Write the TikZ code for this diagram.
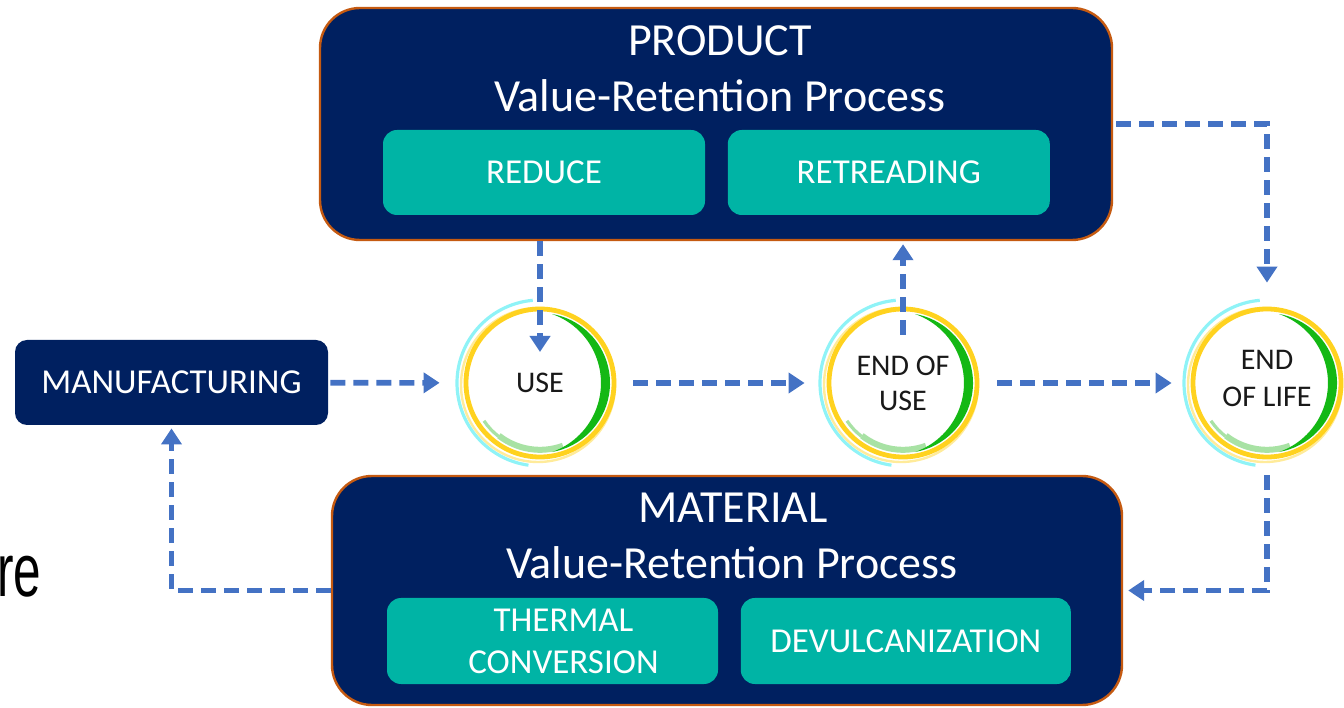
\documentclass[tikz,border=0pt]{standalone}
\usepackage{fontspec}
\setmainfont{Carlito}
\newfontfamily\slidefont{Liberation Sans}
\usetikzlibrary{positioning, calc, arrows.meta}

\definecolor{navy}{HTML}{002060}
\definecolor{vrpteal}{HTML}{00B4A5}
\definecolor{rim}{HTML}{C55A11}
\definecolor{flowblue}{HTML}{4472C4}
\definecolor{ringyellow}{HTML}{FFD21F}
\definecolor{ringcyan}{HTML}{8FF3F7}
\definecolor{ringgreen}{HTML}{14B814}
\definecolor{ringlight}{HTML}{A8E2A4}

\tikzset{
  vrp/.style={draw=rim, line width=1.2pt, fill=navy, rounded corners=20pt,
    minimum width=396pt, minimum height=116pt},
  option/.style={fill=vrpteal, rounded corners=7pt, text=white, align=center,
    font=\fontsize{17.5}{21}\selectfont, inner sep=0pt,
    minimum width=161pt, minimum height=42.5pt},
  title/.style={text=white, font=\fontsize{23}{27}\selectfont, inner sep=0pt},
  stage/.style={circle, fill=white, minimum size=72pt, inner sep=0pt, align=center,
    font=\fontsize{15}{17.5}\selectfont, text=black!90},
  flow/.style={draw=flowblue, line width=2.8pt, dash pattern=on 7.5pt off 4pt,
    -{Triangle[length=8pt,width=10pt]}},
}

\begin{document}
\begin{tikzpicture}[x=0.5pt, y=0.5pt]
  \useasboundingbox (0,0) rectangle (1344,707);

  % the two value-retention boxes
  \node[vrp] (product) at (716,583) {};
  \node[title] (prodname) at (720,666) {PRODUCT};
  \node[title] (prodsub) at (720,611) {Value-Retention Process};
  \node[option] (reduce) at (544,534.5) {REDUCE};
  \node[option, right=11pt of reduce] (retread) {RETREADING};

  \node[vrp, minimum width=395pt, minimum height=114.5pt] (material) at (727,116.5) {};
  \node[title] (matname) at (733,199) {MATERIAL};
  \node[title] (matsub) at (732,144) {Value-Retention Process};
  \node[option, minimum width=165.5pt, minimum height=43pt] (thermal) at (552.5,66) {\hspace*{11pt}THERMAL\\\hspace*{11pt}CONVERSION};
  \node[option, minimum width=165pt, minimum height=43pt, right=11pt of thermal] (devulc) {DEVULCANIZATION};

  \node[fill=navy, rounded corners=6pt, text=white, font=\fontsize{17.5}{21}\selectfont,
    minimum width=156.5pt, minimum height=42.5pt, inner sep=0pt] (manuf) at (171.5,324.5) {MANUFACTURING};

  % life stages
  \node[stage] (use) at (540,324) {USE};
  \node[stage] (eou) at (903,324) {END OF\\USE};
  \node[stage] (eol) at (1267,324) {END\\[1pt]OF LIFE\\[-12.5pt]};

  \foreach \s in {use,eou,eol}{
    \draw[ringcyan, line width=1.6pt] (\s.center) ++(95:41.5pt) arc[start angle=95, end angle=262, radius=41.5pt];
    \draw[ringyellow!45, line width=1.2pt] ($(\s.center)+(-2,-2)$) circle[radius=38.5pt];
    \draw[ringyellow, line width=2.4pt] (\s.center) circle[radius=37pt];
    \draw[ringlight, line width=3pt] (\s.center) ++(-70:33.4pt) arc[start angle=-70, end angle=-128, radius=33.4pt];
    \draw[ringlight, line width=1.6pt] (\s.center) ++(-128:33.8pt) arc[start angle=-128, end angle=-146, radius=33.8pt];
    \fill[ringgreen] (\s.center) ++(80:35pt) arc[start angle=80, end angle=-80, radius=35pt]
      arc[start angle=-70.6, end angle=70.6, radius=36.54pt] -- cycle;
  }

  % flows
  \draw[flow, shorten <=1pt, shorten >=14pt] (manuf) -- (use);
  \draw[flow, shorten <=10.5pt, shorten >=13pt] (use) -- (eou);
  \draw[flow, shorten <=11pt, shorten >=11.5pt] (eou) -- (eol);
  \draw[flow] (product.south -| use) -- ($(use.center)+(0,31)$);
  \draw[flow, shorten >=1.5pt] ($(eou.center)+(0,48)$) -- (eou.center |- product.south);
  \draw[flow, shorten <=1.5pt, shorten >=14pt] (product.east) -| (eol);
  \draw[flow, shorten <=10pt, shorten >=2.5pt] (eol) |- (material.east);
  \draw[flow, shorten >=1.5pt] (material.west) -| (manuf);

  \node[anchor=base west, inner sep=0pt, font=\slidefont\fontsize{37.5}{40}\selectfont] (cutword) at (-3,110) {\scalebox{0.66}[1]{re}};
\end{tikzpicture}
\end{document}
